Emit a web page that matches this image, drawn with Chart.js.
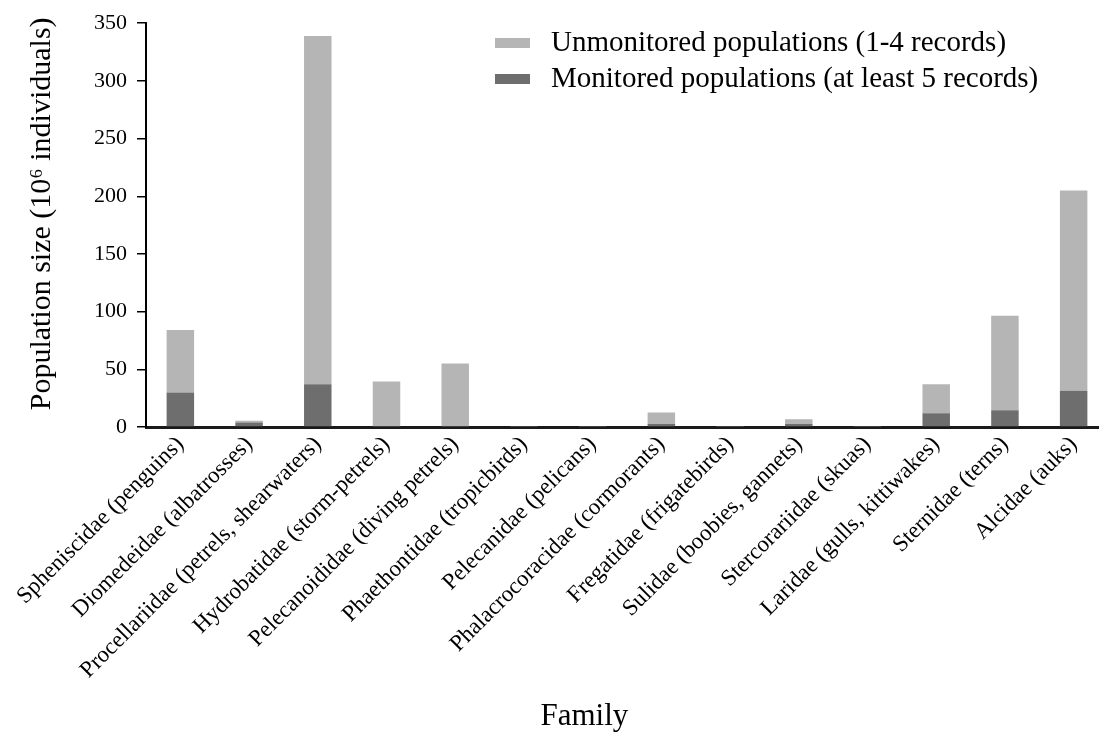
<!DOCTYPE html>
<html>
<head>
<meta charset="utf-8">
<script src="https://cdn.jsdelivr.net/npm/chart.js@4/dist/chart.umd.min.js"></script>
<style>
  html, body { margin: 0; padding: 0; background: #fff; overflow: hidden; }
  #wrap { width: 1108px; height: 732px; }
</style>
</head>
<body>
<div id="wrap"><canvas id="chart"></canvas></div>
<script>
// seabird families
const families = [
  'Spheniscidae (penguins)', 'Diomedeidae (albatrosses)', 'Procellariidae (petrels, shearwaters)',
  'Hydrobatidae (storm-petrels)', 'Pelecanoididae (diving petrels)', 'Phaethontidae (tropicbirds)',
  'Pelecanidae (pelicans)', 'Phalacrocoracidae (cormorants)', 'Fregatidae (frigatebirds)',
  'Sulidae (boobies, gannets)', 'Stercorariidae (skuas)', 'Laridae (gulls, kittiwakes)',
  'Sternidae (terns)', 'Alcidae (auks)'
];
// population size, 10^6 individuals
const monitored   = [30, 4, 37, 0, 0, 0, 0, 2.5, 0, 2.5, 0, 12, 14.5, 31.5];
const unmonitored = [54, 1.5, 302, 39.5, 55, 0.8, 0.8, 10, 0.8, 4.3, 0.8, 25, 82, 173.5];
const yTicks = [0, 50, 100, 150, 200, 250, 300, 350];

const serif = '"Liberation Serif", "DejaVu Serif", serif';

// legend drawn inside the plot, top right, unmonitored first
const boxLegend = {
  id: 'boxLegend',
  afterDraw(chart) {
    const ctx = chart.ctx;
    const items = chart.data.datasets.slice().reverse();
    ctx.save();
    ctx.font = '29px ' + serif;
    ctx.textBaseline = 'middle';
    items.forEach((ds, i) => {
      const y = 43 + i * 36;
      ctx.fillStyle = ds.backgroundColor;
      ctx.fillRect(495, y - 5, 35, 10);
      ctx.fillStyle = '#000';
      ctx.fillText(ds.label, 551, y);
    });
    ctx.restore();
  }
};

new Chart(document.getElementById('chart'), {
  type: 'bar',
  data: {
    labels: families,
    datasets: [
      { label: 'Monitored populations (at least 5 records)', data: monitored,
        backgroundColor: '#6e6e6e', barPercentage: 0.4, categoryPercentage: 1 },
      { label: 'Unmonitored populations (1-4 records)', data: unmonitored,
        backgroundColor: '#b5b5b5', barPercentage: 0.4, categoryPercentage: 1 },
    ],
  },
  options: {
    responsive: true,
    maintainAspectRatio: false,
    animation: false,
    layout: { padding: { top: 18, right: 0, left: 0, bottom: 0 } },
    plugins: { legend: { display: false }, tooltip: { enabled: false } },
    scales: {
      x: {
        stacked: true,
        grid: { display: false, drawTicks: false },
        border: { display: true, color: '#1a1a1a', width: 3 },
        ticks: { color: '#000', font: { family: serif, size: 23 }, minRotation: 45, maxRotation: 45, autoSkip: false, padding: 4 },
        title: { display: true, text: 'Family' + '\u00a0'.repeat(11), color: '#000', font: { family: serif, size: 31 }, padding: { top: 0, bottom: -3 } },
        afterFit: s => { s.height = 305; },
      },
      y: {
        stacked: true,
        min: 0, max: 350,
        afterBuildTicks: s => { s.ticks = yTicks.map(v => ({ value: v })); },
        grid: { drawOnChartArea: false, drawTicks: true, tickLength: 9, color: '#000', lineWidth: 1.5 },
        border: { display: true, color: '#000', width: 2 },
        ticks: { color: '#000', font: { family: serif, size: 22 }, padding: 10 },
        title: { display: true, text: '\u00a0'.repeat(3) + 'Population size (10\u2076 individuals)', color: '#000', font: { family: serif, size: 30 }, padding: { top: 24, bottom: 4 } },
        afterFit: s => { s.width = 146; },
      },
    },
  },
  plugins: [boxLegend],
});
</script>
</body>
</html>
